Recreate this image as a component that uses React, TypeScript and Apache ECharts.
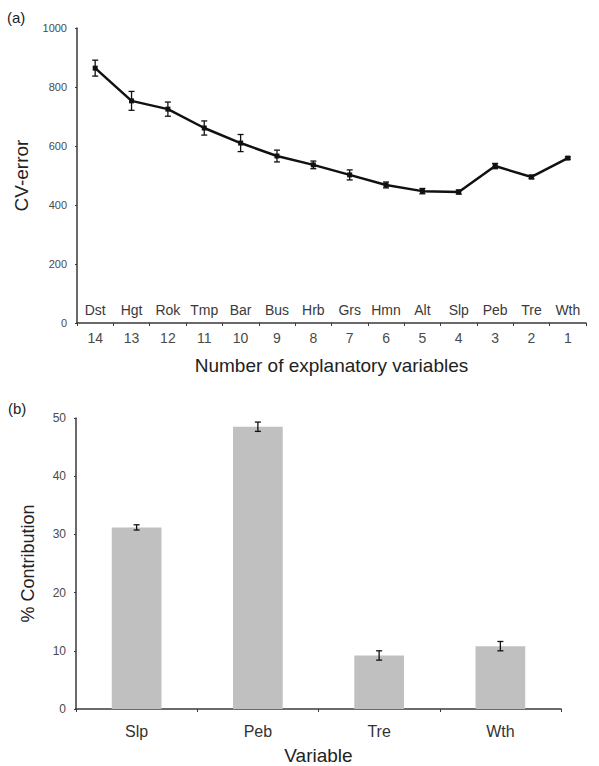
import React, { useEffect, useRef } from "react";
import * as echarts from "echarts";

const varNames = ["Dst", "Hgt", "Rok", "Tmp", "Bar", "Bus", "Hrb", "Grs", "Hmn", "Alt", "Slp", "Peb", "Tre", "Wth"];
const varCounts = ["14", "13", "12", "11", "10", "9", "8", "7", "6", "5", "4", "3", "2", "1"];
const cvError = [864, 753, 725, 661, 610, 566, 536, 502, 468, 447, 444, 532, 495, 559];
const cvErrorSE = [27, 32, 24, 24, 29, 20, 13, 17, 10, 9, 7, 9, 6, 4];

const barCats = ["Slp", "Peb", "Tre", "Wth"];
const contribution = [31.2, 48.5, 9.2, 10.8];
const contributionSE = [0.45, 0.8, 0.8, 0.8];

const axisColor = "#3a3a3a";
const tickText = "#4a4a4a";
const font = "Liberation Sans, Arial, sans-serif";

function errorBarItem(capHalf: number) {
  return (params: any, api: any) => {
    const x = api.value(0);
    const lo = api.coord([x, api.value(1)]);
    const hi = api.coord([x, api.value(2)]);
    const st = { stroke: "#111", lineWidth: 1.3 };
    return {
      type: "group",
      children: [
        { type: "line", shape: { x1: lo[0], y1: lo[1], x2: hi[0], y2: hi[1] }, style: st },
        { type: "line", shape: { x1: lo[0] - capHalf, y1: lo[1], x2: lo[0] + capHalf, y2: lo[1] }, style: st },
        { type: "line", shape: { x1: hi[0] - capHalf, y1: hi[1], x2: hi[0] + capHalf, y2: hi[1] }, style: st },
      ],
    };
  };
}

export default function App() {
  const ref = useRef<HTMLDivElement>(null);
  useEffect(() => {
    if (!ref.current) return;
    const chart = echarts.init(ref.current, undefined, { renderer: "svg" });
    const topErr = cvError.map((v, i) => [i, v - cvErrorSE[i], v + cvErrorSE[i]]);
    const barErr = contribution.map((v, i) => [i, v - contributionSE[i], v + contributionSE[i]]);
    chart.setOption({
      animation: false,
      backgroundColor: "#fff",
      textStyle: { fontFamily: font },
      graphic: [
        { type: "text", left: 7, top: 10, style: { text: "(a)", fontSize: 15, fill: "#222", fontFamily: font } },
        { type: "text", left: 8, top: 401, style: { text: "(b)", fontSize: 15, fill: "#222", fontFamily: font } },
      ],
      grid: [
        { left: 77, top: 28, width: 509, height: 295 },
        { left: 76, top: 418, width: 485, height: 293 },
      ],
      xAxis: [
        {
          gridIndex: 0,
          type: "category",
          data: varCounts,
          boundaryGap: true,
          axisLine: { lineStyle: { color: axisColor, width: 1.5 } },
          axisTick: { show: true, length: 3, interval: 0, lineStyle: { color: axisColor } },
          axisLabel: { interval: 0, hideOverlap: false, color: tickText, fontSize: 14, margin: 8, fontFamily: font },
          name: "Number of explanatory variables",
          nameLocation: "middle",
          nameGap: 33,
          nameTextStyle: { color: "#222", fontSize: 19, fontFamily: font },
        },
        {
          gridIndex: 0,
          type: "category",
          data: varNames,
          position: "bottom",
          boundaryGap: true,
          axisLine: { show: false },
          axisTick: { show: false },
          axisLabel: { interval: 0, hideOverlap: false, inside: true, color: "#3a3a3a", fontSize: 14, margin: 6, fontFamily: font },
        },
        {
          gridIndex: 1,
          type: "category",
          data: barCats,
          boundaryGap: true,
          axisLine: { lineStyle: { color: axisColor, width: 1.5 } },
          axisTick: { show: true, length: 3, lineStyle: { color: axisColor } },
          axisLabel: { interval: 0, color: "#333", fontSize: 16, margin: 14, fontFamily: font },
          name: "Variable",
          nameLocation: "middle",
          nameGap: 37,
          nameTextStyle: { color: "#222", fontSize: 19, fontFamily: font },
        },
      ],
      yAxis: [
        {
          gridIndex: 0,
          type: "value",
          min: 0,
          max: 1000,
          interval: 200,
          splitLine: { show: false },
          axisLine: { show: true, lineStyle: { color: axisColor, width: 1.5 } },
          axisTick: { show: true, length: 2, lineStyle: { color: axisColor } },
          axisLabel: { color: tickText, fontSize: 11, margin: 10, fontFamily: font, formatter: (v: number) => String(v) },
          name: "CV-error",
          nameLocation: "middle",
          nameRotate: 90,
          nameGap: 46,
          nameTextStyle: { color: "#222", fontSize: 19, fontFamily: font },
        },
        {
          gridIndex: 1,
          type: "value",
          min: 0,
          max: 50,
          interval: 10,
          splitLine: { show: false },
          axisLine: { show: true, lineStyle: { color: axisColor, width: 1.5 } },
          axisTick: { show: true, length: 2, lineStyle: { color: axisColor } },
          axisLabel: { color: tickText, fontSize: 12, margin: 10, fontFamily: font },
          name: "% Contribution",
          nameLocation: "middle",
          nameRotate: 90,
          nameGap: 39,
          nameTextStyle: { color: "#222", fontSize: 18, fontFamily: font },
        },
      ],
      series: [
        {
          type: "line",
          xAxisIndex: 0,
          yAxisIndex: 0,
          data: cvError,
          symbol: "rect",
          symbolSize: 5,
          lineStyle: { color: "#111", width: 2.5 },
          itemStyle: { color: "#111" },
          z: 3,
        },
        {
          type: "custom",
          xAxisIndex: 0,
          yAxisIndex: 0,
          data: topErr,
          renderItem: errorBarItem(3),
          z: 4,
        },
        {
          type: "bar",
          xAxisIndex: 2,
          yAxisIndex: 1,
          data: contribution,
          barWidth: "41%",
          itemStyle: { color: "#c0c0c0" },
        },
        {
          type: "custom",
          xAxisIndex: 2,
          yAxisIndex: 1,
          data: barErr,
          renderItem: errorBarItem(3),
          z: 4,
        },
      ],
    });
    return () => chart.dispose();
  }, []);
  return <div ref={ref} style={{ position: "fixed", left: 0, top: 0, width: 599, height: 766 }} />;
}
